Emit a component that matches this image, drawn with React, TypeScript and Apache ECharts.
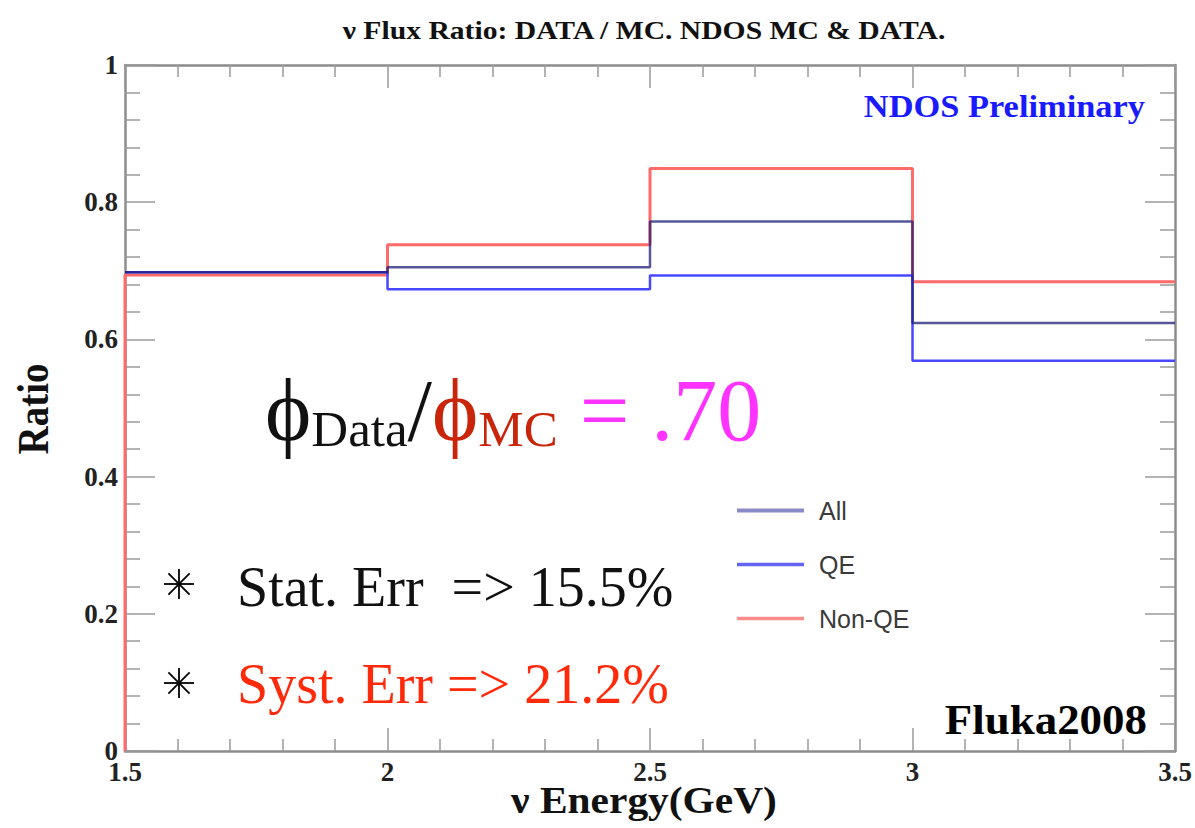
import React, { useEffect, useRef } from 'react';
import * as echarts from 'echarts';

// ---- data ----
const binEdges = [1.5, 2, 2.5, 3, 3.5];
const allRatio = [0.698, 0.705, 0.772, 0.624];
const qeRatio = [0.698, 0.673, 0.693, 0.569];
const nonQeRatio = [0.694, 0.738, 0.849, 0.684];
const legendNames = ['All', 'QE', 'Non-QE'];

const titleText = 'ν Flux Ratio: DATA / MC. NDOS MC & DATA.';
const xName = 'ν Energy(GeV)';
const yName = 'Ratio';

function stepPoints(vals: number[], fromZero: boolean): number[][] {
  const pts = binEdges.map((e, i) => [e, vals[Math.min(i, vals.length - 1)]]);
  if (fromZero) pts.unshift([binEdges[0], 0]);
  return pts;
}

const serif = "'Liberation Serif', 'Times New Roman', 'DejaVu Serif', serif";
const sans = "'Liberation Sans', Arial, Helvetica, sans-serif";

export default function App() {
  const ref = useRef<HTMLDivElement>(null);
  useEffect(() => {
    if (!ref.current) return;
    const chart = echarts.init(ref.current, undefined, { renderer: 'svg' });
    const axisLine = { show: true, onZero: false, lineStyle: { color: '#8c8c8c', width: 2.5 } };
    const tickStyle = { color: '#9a9a9a', width: 1.5 };
    const labelStyle = {
      fontFamily: serif,
      fontWeight: 'bold' as const,
      fontSize: 27,
      color: '#222',
    };
    const star = (cx: number, cy: number) => {
      const r = 15;
      const els: any[] = [];
      for (let k = 0; k < 4; k++) {
        const a = (k * Math.PI) / 4;
        els.push({
          type: 'line',
          shape: {
            x1: cx - r * Math.cos(a),
            y1: cy - r * Math.sin(a),
            x2: cx + r * Math.cos(a),
            y2: cy + r * Math.sin(a),
          },
          style: { stroke: '#000', lineWidth: 1.8 },
        });
      }
      return els;
    };
    const option: any = {
      animation: false,
      backgroundColor: '#ffffff',
      grid: { left: 125, right: 20, top: 65, bottom: 77, containLabel: false },
      xAxis: [
        {
          type: 'value',
          min: 1.5,
          max: 3.5,
          interval: 0.5,
          position: 'bottom',
          axisLine,
          axisTick: { show: true, inside: true, length: 23, lineStyle: tickStyle },
          minorTick: { show: true, splitNumber: 5, length: 12, lineStyle: tickStyle },
          splitLine: { show: false },
          minorSplitLine: { show: false },
          axisLabel: { ...labelStyle, margin: 7, showMinLabel: true, showMaxLabel: true },
        },
        {
          type: 'value',
          min: 1.5,
          max: 3.5,
          interval: 0.5,
          position: 'top',
          axisLine,
          axisTick: { show: true, inside: true, length: 23, lineStyle: tickStyle },
          minorTick: { show: true, splitNumber: 5, length: 12, lineStyle: tickStyle },
          splitLine: { show: false },
          axisLabel: { show: false },
        },
      ],
      yAxis: [
        {
          type: 'value',
          min: 0,
          max: 1,
          interval: 0.2,
          position: 'left',
          axisLine,
          axisTick: { show: true, inside: true, length: 30, lineStyle: tickStyle },
          minorTick: { show: true, splitNumber: 5, length: 15, lineStyle: tickStyle },
          splitLine: { show: false },
          minorSplitLine: { show: false },
          axisLabel: { ...labelStyle, margin: 7, showMinLabel: true, showMaxLabel: true },
        },
        {
          type: 'value',
          min: 0,
          max: 1,
          interval: 0.2,
          position: 'right',
          axisLine,
          axisTick: { show: true, inside: true, length: 30, lineStyle: tickStyle },
          minorTick: { show: true, splitNumber: 5, length: 15, lineStyle: tickStyle },
          splitLine: { show: false },
          axisLabel: { show: false },
        },
      ],
      legend: {
        orient: 'vertical',
        left: 735,
        top: 498,
        padding: 0,
        itemWidth: 67,
        itemHeight: 14,
        itemGap: 29,
        selectedMode: false,
        itemStyle: { opacity: 0 },
        textStyle: { fontFamily: sans, fontSize: 25, color: '#3a3a3a', padding: [0, 0, 0, 10] },
        data: [
          { name: legendNames[0], lineStyle: { color: '#8a8ac6', width: 4 }, itemStyle: { opacity: 0 } },
          { name: legendNames[1], lineStyle: { color: '#6464f2', width: 3.5 }, itemStyle: { opacity: 0 } },
          { name: legendNames[2], lineStyle: { color: '#ff8a8a', width: 3.5 }, itemStyle: { opacity: 0 } },
        ],
      },
      series: [
        {
          name: legendNames[2],
          type: 'line',
          step: 'end',
          symbol: 'none',
          clip: false,
          data: stepPoints(nonQeRatio, true),
          lineStyle: { color: '#ff6a6a', width: 3 },
          itemStyle: { color: '#ff8a8a' },
        },
        {
          name: legendNames[1],
          type: 'line',
          step: 'end',
          symbol: 'none',
          clip: false,
          data: stepPoints(qeRatio, false),
          lineStyle: { color: '#4848ff', width: 2.5 },
          itemStyle: { color: '#6464f2' },
        },
        {
          name: legendNames[0],
          type: 'line',
          step: 'end',
          symbol: 'none',
          clip: false,
          data: stepPoints(allRatio, false),
          lineStyle: { color: 'rgba(30,30,120,0.75)', width: 2.5 },
          itemStyle: { color: '#8a8ac6' },
        },
      ],
      graphic: [
        {
          type: 'text',
          x: 644,
          y: 30,
          scaleX: 1.14,
          style: {
            text: titleText,
            fontFamily: serif,
            fontWeight: 'bold',
            fontSize: 26,
            fill: '#111',
            textAlign: 'center',
            verticalAlign: 'middle',
          },
        },
        {
          type: 'text',
          x: 644,
          y: 800,
          scaleX: 1.12,
          style: {
            text: xName,
            fontFamily: serif,
            fontWeight: 'bold',
            fontSize: 37,
            fill: '#111',
            textAlign: 'center',
            verticalAlign: 'middle',
          },
        },
        {
          type: 'text',
          x: 33,
          y: 409,
          rotation: Math.PI / 2,
          scaleY: 1.15,
          style: {
            text: yName,
            fontFamily: serif,
            fontWeight: 'bold',
            fontSize: 39,
            fill: '#111',
            textAlign: 'center',
            verticalAlign: 'middle',
          },
        },
        {
          type: 'text',
          x: 1145,
          y: 107,
          scaleX: 1.11,
          style: {
            text: 'NDOS Preliminary',
            fontFamily: serif,
            fontWeight: 'bold',
            fontSize: 31,
            fill: '#1a1aff',
            textAlign: 'right',
            verticalAlign: 'middle',
          },
        },
        {
          type: 'text',
          x: 1147,
          y: 720,
          scaleX: 1.07,
          style: {
            text: 'Fluka2008',
            fontFamily: serif,
            fontWeight: 'bold',
            fontSize: 42,
            fill: '#000',
            textAlign: 'right',
            verticalAlign: 'middle',
          },
        },
        {
          type: 'text',
          x: 265,
          y: 454,
          style: {
            text: '{p|ϕ}{s|Data}{p|/}{pr|ϕ}{sr|MC}{m|\u00a0= .70}',
            fontFamily: serif,
            fontSize: 88,
            textAlign: 'left',
            verticalAlign: 'bottom',
            rich: {
              p: { fontFamily: serif, fontSize: 88, lineHeight: 88, fill: '#111', verticalAlign: 'bottom' },
              s: { fontFamily: serif, fontSize: 51, lineHeight: 60, fill: '#111', verticalAlign: 'bottom' },
              pr: { fontFamily: serif, fontSize: 88, lineHeight: 88, fill: '#c8250a', verticalAlign: 'bottom' },
              sr: { fontFamily: serif, fontSize: 51, lineHeight: 60, fill: '#c8250a', verticalAlign: 'bottom' },
              m: { fontFamily: serif, fontSize: 88, lineHeight: 88, fill: '#ff33ff', verticalAlign: 'bottom' },
            },
          },
        },
        ...star(179, 584),
        ...star(179, 683),
        {
          type: 'text',
          x: 237,
          y: 587,
          style: {
            text: 'Stat. Err \u00a0=> 15.5%',
            fontFamily: serif,
            fontSize: 56,
            fill: '#111',
            textAlign: 'left',
            verticalAlign: 'middle',
          },
        },
        {
          type: 'text',
          x: 237,
          y: 684,
          style: {
            text: 'Syst. Err => 21.2%',
            fontFamily: serif,
            fontSize: 56,
            fill: '#ff2a0a',
            textAlign: 'left',
            verticalAlign: 'middle',
          },
        },
      ],
    };
    chart.setOption(option);
    return () => chart.dispose();
  }, []);
  return (
    <div
      ref={ref}
      style={{ position: 'fixed', left: 0, top: 0, width: 1195, height: 828, background: '#fff' }}
    />
  );
}
